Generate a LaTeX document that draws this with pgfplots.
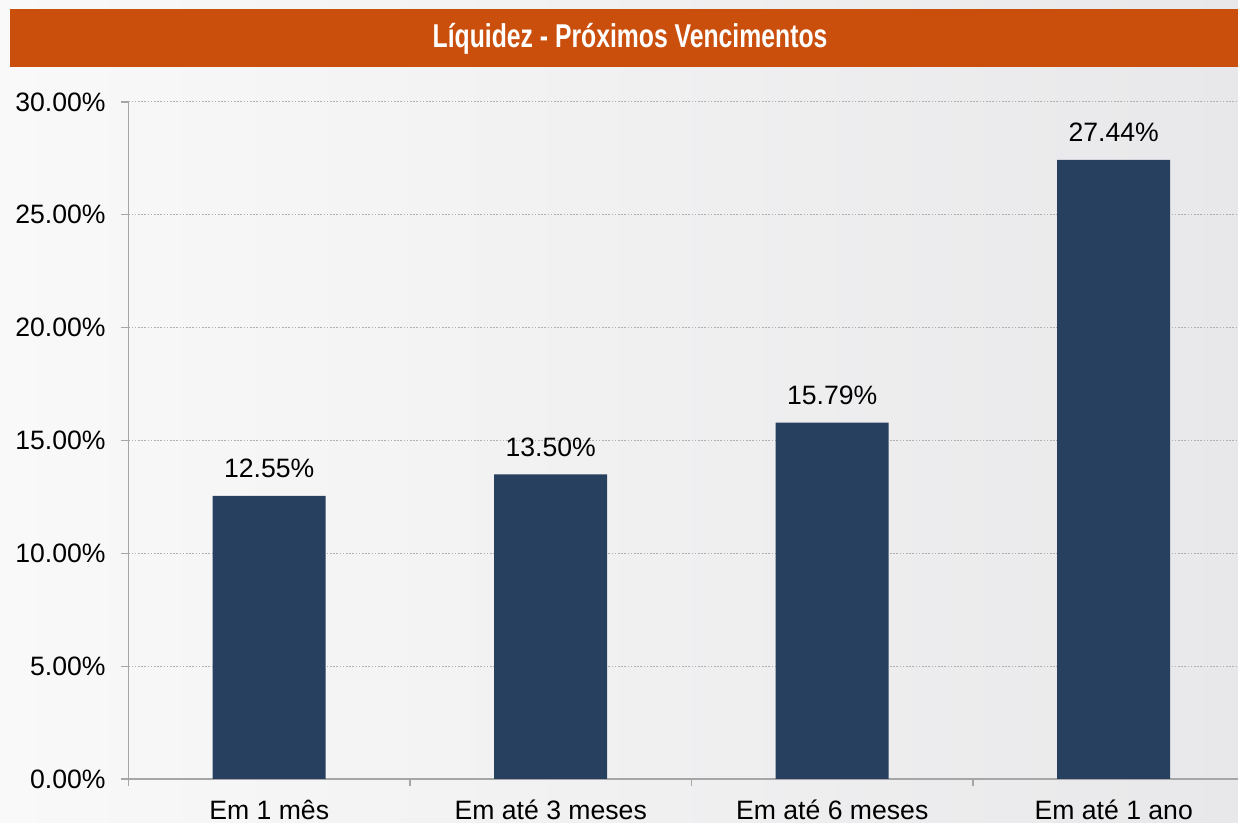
\documentclass[border=0pt]{standalone}
\usepackage{pgfplots}
\pgfplotsset{compat=1.18}
\usepackage{fontspec}
\setmainfont{Liberation Sans}
\newfontfamily\titlefont[FakeStretch=0.75]{Liberation Sans}
\definecolor{banner}{HTML}{CA4E0C}
\definecolor{barc}{HTML}{27405F}
\definecolor{axc}{HTML}{A6A6A6}
\definecolor{gridc}{HTML}{B0B0B0}
\definecolor{bgl}{HTML}{F9F9F9}
\definecolor{bgr}{HTML}{E8E8EA}
\begin{document}
\begin{tikzpicture}[x=1pt,y=1pt]
\shade[left color=bgl, right color=bgr] (0,0) rectangle (619,411.5);
\fill[banner] (5,378) rectangle (619,407);
\node[anchor=base, text=white, inner sep=0pt, font=\titlefont\bfseries\fontsize{16.5}{18}\selectfont] at (315,387.5) {Líquidez - Próximos Vencimentos};
\begin{axis}[
  at={(64.25pt,22pt)}, anchor=south west, scale only axis,
  width=554.75pt, height=338.5pt,
  xmin=-0.5, xmax=3.4414, ymin=0, ymax=30,
  axis lines*=left, axis line style={-, draw=axc, line width=0.6pt},
  every outer x axis line/.append style={-},
  every outer y axis line/.append style={-},
  xtick={-0.5,0.5,1.5,2.5}, xticklabels={},
  extra x ticks={0,1,2,3},
  extra x tick labels={Em 1 mês, Em até 3 meses, Em até 6 meses, Em até 1 ano},
  extra x tick style={major tick length=0pt},
  ytick={0,5,10,15,20,25,30},
  yticklabels={0.00\%,5.00\%,10.00\%,15.00\%,20.00\%,25.00\%,30.00\%},
  ymajorgrids, grid style={gridc, line width=0.5pt, dash pattern=on 0.8pt off 0.8pt},
  tick align=outside, major tick length=3.5pt,
  tick style={draw=axc, line width=0.6pt},
  tick label style={font=\fontsize{13.3}{15}\selectfont},
  yticklabel style={anchor=east, inner sep=0pt, xshift=-7.75pt},
  xticklabel style={anchor=base, inner sep=0pt, yshift=-20.5pt},
]
\addplot[ybar, fill=barc, draw=none, bar width=56.5pt,
  nodes near coords, point meta=explicit symbolic,
  nodes near coords style={anchor=base, inner sep=0pt, yshift=9pt, font=\fontsize{13.3}{15}\selectfont}]
  coordinates {(0,12.55)[12.55\%] (1,13.50)[13.50\%] (2,15.79)[15.79\%] (3,27.44)[27.44\%]};
\end{axis}
\pgfresetboundingbox
\useasboundingbox (0,0) rectangle (619,411.5);
\end{tikzpicture}
\end{document}
